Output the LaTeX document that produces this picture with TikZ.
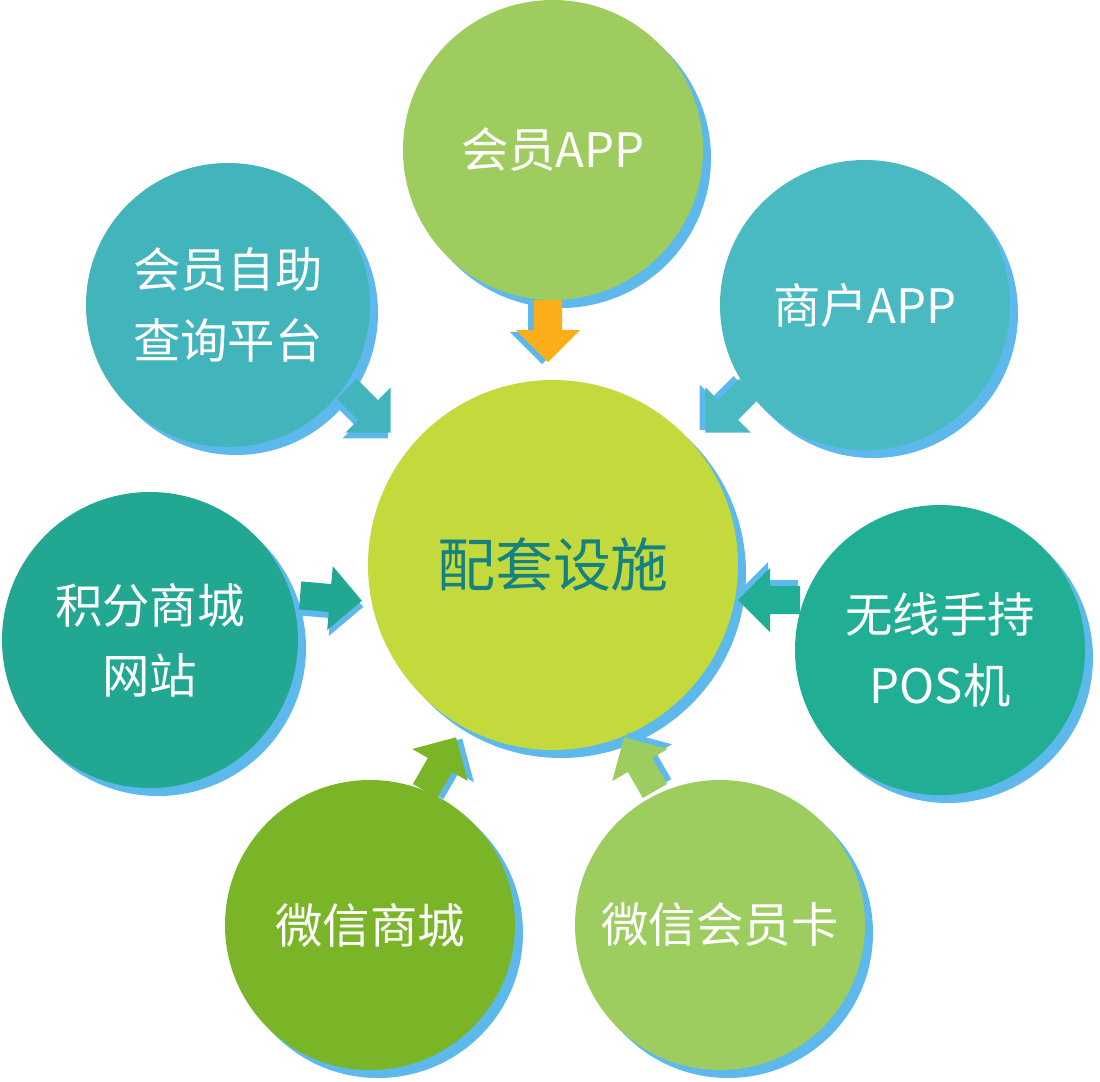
\documentclass[tikz,border=0pt]{standalone}
\usepackage{fontspec}
\setmainfont{Noto Sans CJK SC}
\begin{document}
\begin{tikzpicture}[x=0.02cm,y=-0.02cm,
  shad/.style={fill=shadowblue},
  ball/.style={circle,inner sep=0pt,text=white,align=center,font=\fontsize{27}{40}\selectfont},
  blockarrow/.pic={
    \fill[shadowblue] (-28,-14+6)--(2,-14+6)--(2,-32+6)--(34,0+6)--(2,32+6)--(2,14+6)--(-28,14+6)--cycle;
    \fill[#1] (-30,-14)--(0,-14)--(0,-32)--(32,0)--(0,32)--(0,14)--(-30,14)--cycle;
  }]
\definecolor{shadowblue}{HTML}{5DB8EC}
\definecolor{cA}{HTML}{9FCC5E}
\definecolor{cB}{HTML}{41B4BC}
\definecolor{cC}{HTML}{4ABAC2}
\definecolor{cD}{HTML}{22A892}
\definecolor{cE}{HTML}{20AE94}
\definecolor{cF}{HTML}{7AB527}
\definecolor{cG}{HTML}{9DCD5E}
\definecolor{cCenter}{HTML}{C3D93C}
\definecolor{orangeA}{HTML}{FBAE17}
\useasboundingbox (0,0) rectangle (1100,1082);
% shadows
\foreach \x/\y/\r in {553/150/150,228/305/142,865/305/145,150/640/148,940/650/145,370/925/145,720/925/145}
  \fill[shadowblue] (\x+8,\y+8) circle (\r);
\node[ball,fill=cA,minimum size=300*0.02cm] (app) at (553,150) {会员APP};
\node[ball,fill=cB,minimum size=284*0.02cm] (query) at (228,305) {会员自助\\查询平台};
\node[ball,fill=cC,minimum size=290*0.02cm] (shop) at (865,305) {商户APP};
\node[ball,fill=cD,minimum size=296*0.02cm] (mall) at (150,640) {积分商城\\网站};
\node[ball,fill=cE,minimum size=290*0.02cm] (pos) at (940,650) {无线手持\\POS机};
\node[ball,fill=cF,minimum size=290*0.02cm] (wxmall) at (370,925) {微信商城};
\node[ball,fill=cG,minimum size=290*0.02cm] (wxcard) at (720,925) {微信会员卡};
\fill[shadowblue] (561,573) circle (185);
\node[circle,inner sep=0pt,fill=cCenter,minimum size=370*0.02cm,text={rgb,255:red,20;green,130;blue,130},font=\fontsize{33}{40}\selectfont] (center) at (553,565) {配套设施};
% arrows
\pic[rotate=-90] at (548,330) {blockarrow=orangeA};
\pic[rotate=-45] at (368,410) {blockarrow=cB};
\pic[rotate=-135] at (728,410) {blockarrow=cC};
\pic[rotate=-5] at (330,598) {blockarrow=cD};
\pic[rotate=180] at (770,600) {blockarrow=cE};
\pic[rotate=60] at (440,765) {blockarrow=cF};
\pic[rotate=120] at (640,765) {blockarrow=cG};
\end{tikzpicture}
\end{document}
